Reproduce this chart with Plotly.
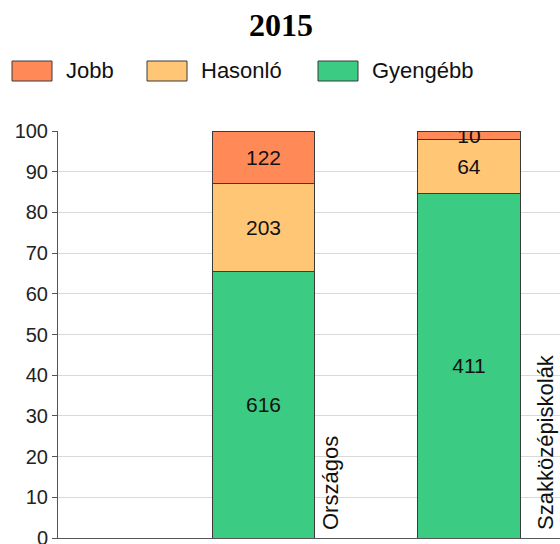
import plotly.graph_objects as go

title = "2015"
categories = ["Országos", "Szakközépiskolák"]
series_names = ["Gyengébb", "Hasonló", "Jobb"]
gyengebb = [616, 411]
hasonlo = [203, 64]
jobb = [122, 10]
y_ticks = [0, 10, 20, 30, 40, 50, 60, 70, 80, 90, 100]

series_values = [gyengebb, hasonlo, jobb]
series_colors = ["#3BCB82", "#FFC676", "#FF8A58"]

W, H = 560, 544
L, R, T, B = 58, 0, 131, 6
pw, ph = W - L - R, H - T - B
FONT = "Liberation Sans, Arial"

def px_x(px):
    return (px - L) / pw

def px_y(py):
    return (H - B - py) / ph

totals = [sum(v[i] for v in series_values) for i in range(len(categories))]
xpos = [i + 1 for i in range(len(categories))]

fig = go.Figure()
for name, vals, col in zip(series_names, series_values, series_colors):
    pct = [v / t * 100 for v, t in zip(vals, totals)]
    fig.add_trace(go.Bar(
        x=xpos, y=pct, name=name, width=0.5,
        marker=dict(color=col, line=dict(color="#3a3a3a", width=1)),
        text=[str(v) for v in vals], textposition="inside",
        insidetextanchor="middle",
        textfont=dict(family=FONT, size=21, color="#111"),
        showlegend=False, hoverinfo="skip",
    ))

fig.update_layout(
    barmode="stack",
    width=W, height=H,
    margin=dict(l=L, r=R, t=T, b=B, autoexpand=False),
    paper_bgcolor="white", plot_bgcolor="white",
    uniformtext=dict(minsize=21, mode="show"),
    title=dict(text="<b>" + title + "</b>", x=281 / W, xanchor="center",
               y=1 - 25 / H, yanchor="middle",
               font=dict(family="Liberation Serif, Times New Roman", size=32, color="black")),
    xaxis=dict(range=[0, pw / 205.5], showgrid=False, showticklabels=False,
               ticks="", zeroline=False, showline=True, linecolor="#555", linewidth=1,
               mirror=False, fixedrange=True, automargin=False),
    yaxis=dict(range=[0, 100], tickvals=y_ticks, showgrid=True, gridcolor="#d9d9d9",
               gridwidth=1, zeroline=False, showline=True, linecolor="#555", linewidth=1,
               ticks="outside", ticklen=5, tickcolor="#555", ticklabeloverflow="allow",
               automargin=False,
               tickfont=dict(family=FONT, size=20, color="#222")),
)

# category labels, rotated, to the right of each bar
label_x_px = [330, 545]
for xp, cat, lx in zip(xpos, categories, label_x_px):
    fig.add_annotation(x=(lx - L) / 205.5, y=0, xref="x", yref="y",
                       text=cat, textangle=-90, showarrow=False,
                       xanchor="center", yanchor="bottom", yshift=6,
                       font=dict(family=FONT, size=22, color="#111"))

# legend (drawn manually with wide swatches)
legend_order = ["Jobb", "Hasonló", "Gyengébb"]
legend_box_x = [12, 147, 318]
for name, bx in zip(legend_order, legend_box_x):
    col = series_colors[series_names.index(name)]
    fig.add_shape(type="rect", xref="paper", yref="paper",
                  x0=px_x(bx), x1=px_x(bx + 40), y0=px_y(81), y1=px_y(61),
                  fillcolor=col, line=dict(color="#3a3a3a", width=1))
    fig.add_annotation(xref="paper", yref="paper", x=px_x(bx + 52), y=px_y(71),
                       text=name, showarrow=False, xanchor="left", yanchor="middle",
                       font=dict(family=FONT, size=22, color="#111"))

fig.write_html("out.html", config={"displayModeBar": False},
               post_script="document.body.style.margin='0';")
